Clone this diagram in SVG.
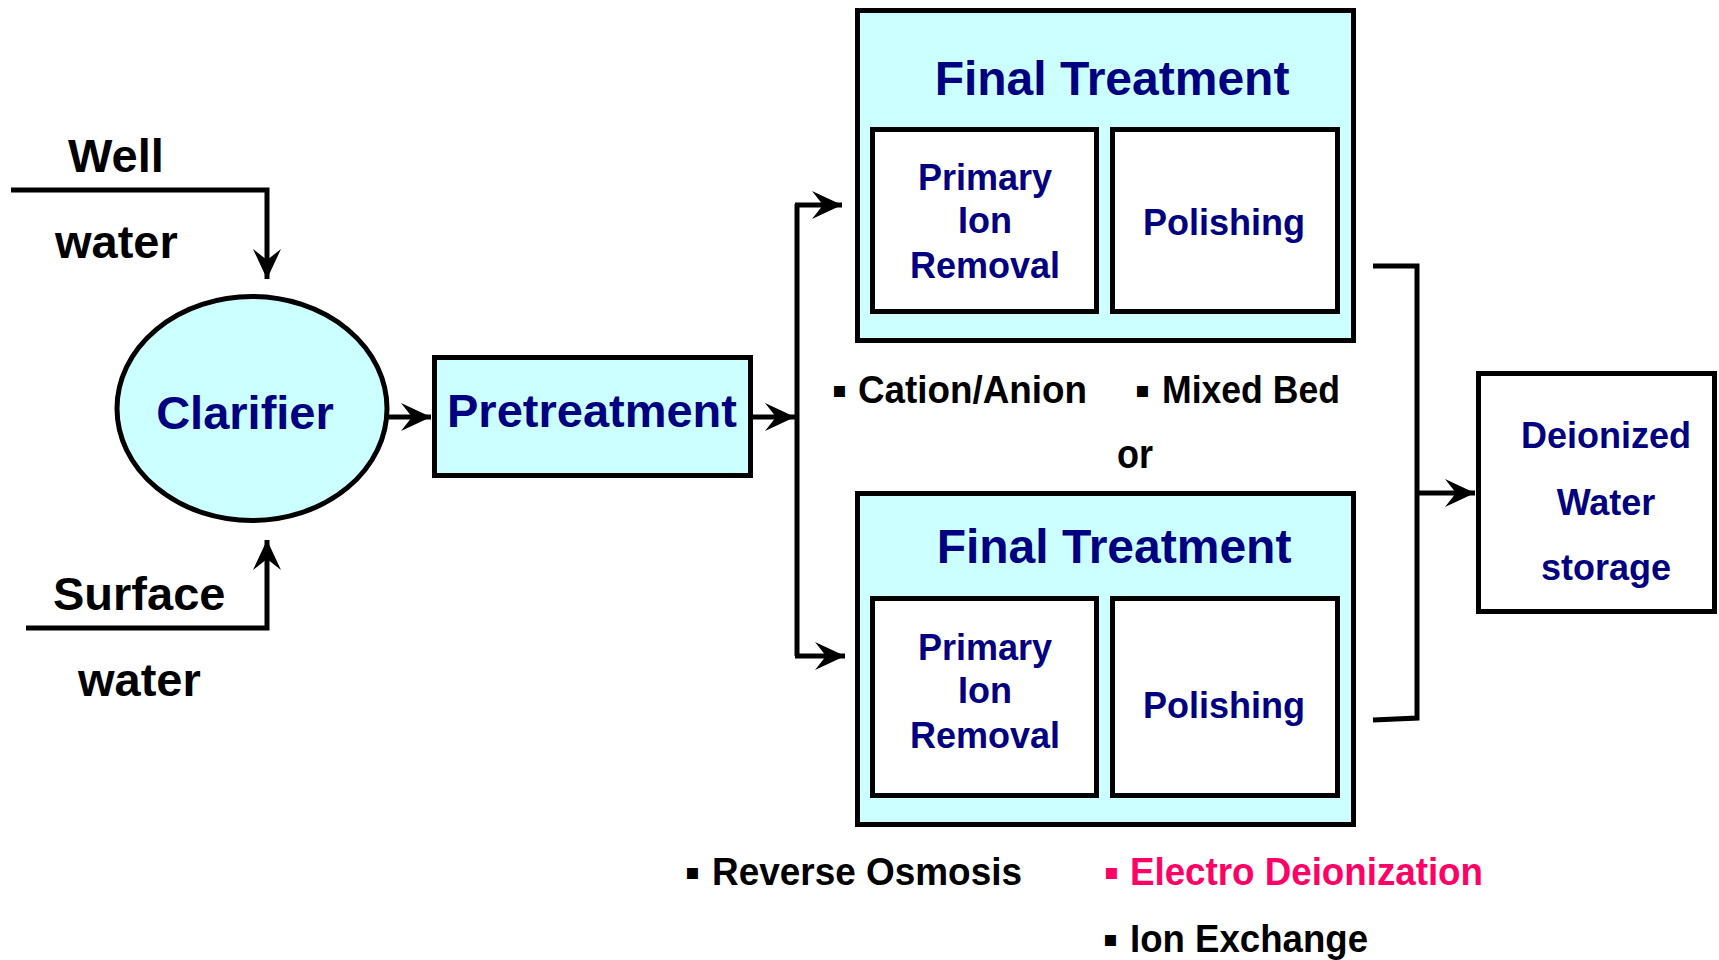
<svg xmlns="http://www.w3.org/2000/svg" width="1719" height="960" viewBox="0 0 1719 960">
<style>
.bx{fill:#CCFFFF;stroke:#000;stroke-width:5}
.in{fill:#FFFFFF;stroke:#000;stroke-width:5}
.ln{fill:none;stroke:#000;stroke-width:5;stroke-linejoin:miter}
.ttl{font-family:"Liberation Sans",Arial,sans-serif;font-weight:bold;fill:#000080;text-anchor:middle}
.blk{font-family:"Liberation Sans",Arial,sans-serif;font-weight:bold;fill:#000}
.bul{font-family:"DejaVu Sans",sans-serif;font-weight:bold}
</style>
<defs>
<marker id="ah" markerUnits="userSpaceOnUse" viewBox="-32 -16 34 32" refX="0" refY="0" markerWidth="34" markerHeight="32" orient="auto">
<path d="M0,0 L-30,-14 L-19,0 L-30,14 Z" fill="#000"/>
</marker>
</defs>
<rect width="1719" height="960" fill="#FFFFFF"/>

<g id="connectors">
<path class="ln" d="M11,190 H267 V279" marker-end="url(#ah)"/>
<path class="ln" d="M26,628 H267 V540" marker-end="url(#ah)"/>
<path class="ln" d="M389,417 H431" marker-end="url(#ah)"/>
<path class="ln" d="M753,417 H795" marker-end="url(#ah)"/>
<path class="ln" d="M797,204 V656"/>
<path class="ln" d="M795,205 H842" marker-end="url(#ah)"/>
<path class="ln" d="M795,656 H845" marker-end="url(#ah)"/>
<path class="ln" d="M1373,266 H1417 V718 L1373,720"/>
<path class="ln" d="M1417,493 H1475" marker-end="url(#ah)"/>
</g>

<g id="well-water">
<text class="blk" x="68" y="172" font-size="47">Well</text>
<text class="blk" x="55" y="258" font-size="47">water</text>
</g>
<g id="surface-water">
<text class="blk" x="53" y="610" font-size="47">Surface</text>
<text class="blk" x="78" y="696" font-size="47">water</text>
</g>

<g id="clarifier">
<ellipse class="bx" cx="252" cy="408.5" rx="135" ry="112"/>
<text class="ttl" x="245" y="429" font-size="47">Clarifier</text>
</g>

<g id="pretreatment">
<rect class="bx" x="434.5" y="357.5" width="316" height="118"/>
<text class="ttl" x="592" y="427" font-size="47">Pretreatment</text>
</g>

<g id="final-treatment-1">
<rect class="bx" x="857.5" y="10.5" width="496" height="330"/>
<text class="ttl" x="1112" y="95" font-size="48">Final Treatment</text>
<rect class="in" x="872.5" y="129.5" width="224" height="182"/>
<rect class="in" x="1112.5" y="129.5" width="225" height="182"/>
<text class="ttl" font-size="36"><tspan x="985" y="190">Primary</tspan><tspan x="985" y="233">Ion</tspan><tspan x="985" y="278">Removal</tspan></text>
<text class="ttl" x="1224" y="235" font-size="36">Polishing</text>
</g>

<g id="options-1">
<text class="blk" font-size="38"><tspan class="bul" x="832" y="397" font-size="22">▪</tspan><tspan x="858" y="403" textLength="229" lengthAdjust="spacingAndGlyphs">Cation/Anion</tspan></text>
<text class="blk" font-size="38"><tspan class="bul" x="1135" y="397" font-size="22">▪</tspan><tspan x="1162" y="403" textLength="178" lengthAdjust="spacingAndGlyphs">Mixed Bed</tspan></text>
<text class="blk" x="1117" y="468" font-size="40" textLength="36" lengthAdjust="spacingAndGlyphs">or</text>
</g>

<g id="final-treatment-2">
<rect class="bx" x="857.5" y="493.5" width="496" height="331"/>
<text class="ttl" x="1114" y="563" font-size="48">Final Treatment</text>
<rect class="in" x="872.5" y="598.5" width="224" height="197"/>
<rect class="in" x="1112.5" y="598.5" width="225" height="197"/>
<text class="ttl" font-size="36"><tspan x="985" y="660">Primary</tspan><tspan x="985" y="703">Ion</tspan><tspan x="985" y="748">Removal</tspan></text>
<text class="ttl" x="1224" y="718" font-size="36">Polishing</text>
</g>

<g id="deionized-storage">
<rect class="in" x="1478.5" y="373.5" width="236" height="238"/>
<text class="ttl" font-size="36"><tspan x="1606" y="448">Deionized</tspan><tspan x="1606" y="515">Water</tspan><tspan x="1606" y="580">storage</tspan></text>
</g>

<g id="options-2">
<text class="blk" font-size="38"><tspan class="bul" x="685" y="879" font-size="22">▪</tspan><tspan x="712" y="885" textLength="310" lengthAdjust="spacingAndGlyphs">Reverse Osmosis</tspan></text>
<text class="blk" font-size="38" style="fill:#FF0066"><tspan class="bul" x="1104" y="879" font-size="22">▪</tspan><tspan x="1130" y="885" textLength="353" lengthAdjust="spacingAndGlyphs">Electro Deionization</tspan></text>
<text class="blk" font-size="38"><tspan class="bul" x="1103" y="946" font-size="22">▪</tspan><tspan x="1130" y="952" textLength="238" lengthAdjust="spacingAndGlyphs">Ion Exchange</tspan></text>
</g>
</svg>
